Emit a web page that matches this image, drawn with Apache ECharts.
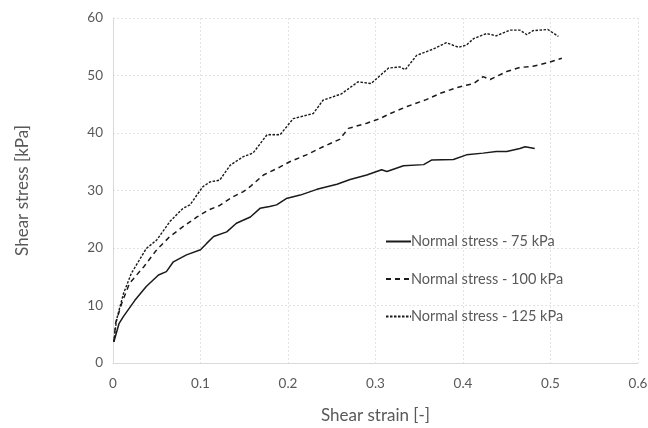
<!DOCTYPE html>
<html><head><meta charset="utf-8">
<script src="https://cdn.jsdelivr.net/npm/echarts@6/dist/echarts.min.js"></script>
<style>html,body{margin:0;padding:0;background:#fff}#c{width:648px;height:428px}</style>
</head><body><div id="c"></div>
<script>
const seriesNames = ['Normal stress - 75 kPa', 'Normal stress - 100 kPa', 'Normal stress - 125 kPa'];
const xTicks = [0, 0.1, 0.2, 0.3, 0.4, 0.5, 0.6];
const yTicks = [0, 10, 20, 30, 40, 50, 60];
const s75 = [[0.001,3.7],[0.007,6.9],[0.012,8.1],[0.025,10.9],[0.038,13.3],[0.052,15.3],[0.061,15.9],[0.069,17.6],[0.084,18.8],[0.1,19.7],[0.107,20.8],[0.115,22.0],[0.13,22.8],[0.141,24.3],[0.157,25.4],[0.168,26.9],[0.179,27.2],[0.187,27.5],[0.198,28.6],[0.214,29.2],[0.233,30.2],[0.256,31.1],[0.271,31.9],[0.29,32.7],[0.307,33.6],[0.313,33.3],[0.332,34.3],[0.355,34.5],[0.364,35.3],[0.389,35.4],[0.404,36.2],[0.423,36.5],[0.438,36.8],[0.45,36.8],[0.465,37.3],[0.471,37.6],[0.482,37.3]];
const s100 = [[0.001,3.7],[0.003,6.9],[0.01,10.4],[0.019,13.9],[0.035,16.7],[0.05,19.7],[0.065,22.0],[0.08,23.7],[0.096,25.4],[0.109,26.6],[0.122,27.4],[0.137,28.9],[0.149,29.8],[0.157,30.7],[0.172,32.7],[0.191,34.1],[0.202,35.0],[0.221,36.2],[0.24,37.6],[0.259,38.9],[0.269,40.8],[0.29,41.7],[0.305,42.5],[0.317,43.4],[0.336,44.6],[0.358,45.8],[0.374,46.9],[0.393,47.9],[0.412,48.6],[0.423,49.8],[0.431,49.3],[0.45,50.7],[0.465,51.4],[0.48,51.6],[0.496,52.2],[0.513,53.0]];
const s125 = [[0.001,3.7],[0.004,7.5],[0.012,12.1],[0.021,15.6],[0.038,19.9],[0.05,21.4],[0.065,24.6],[0.08,26.9],[0.088,27.5],[0.1,30.1],[0.103,30.7],[0.111,31.5],[0.122,31.8],[0.134,34.4],[0.149,35.9],[0.16,36.5],[0.176,39.7],[0.191,39.7],[0.206,42.5],[0.229,43.4],[0.24,45.7],[0.261,46.8],[0.28,48.9],[0.295,48.6],[0.306,50.1],[0.315,51.3],[0.328,51.5],[0.334,51.0],[0.347,53.5],[0.366,54.6],[0.381,55.7],[0.395,54.9],[0.404,55.3],[0.412,56.4],[0.427,57.3],[0.438,56.9],[0.454,57.9],[0.465,57.9],[0.473,57.1],[0.48,57.8],[0.497,58.0],[0.509,56.8]];

const chart = echarts.init(document.getElementById('c'));
const font = 'Lato, "Open Sans", sans-serif';
const grey = '#595959';
function mk(name, data, type, width) {
  return {name, type:'line', data, symbol:'none', smooth:false,
    lineStyle:{color:'#1a1a1a', width, type}, itemStyle:{color:'#1a1a1a'}};
}
chart.setOption({
  animation:false,
  backgroundColor:'#fff',
  grid:{left:113, right:10, top:18, bottom:65, containLabel:false, outerBoundsMode:'none'},
  xAxis:{type:'value', min:0, max:0.6, interval:0.1,
    name:'Shear strain [-]', nameLocation:'middle', nameGap:44,
    nameTextStyle:{fontFamily:font, fontSize:17, color:grey},
    axisLine:{show:true, lineStyle:{color:'#d9d9d9'}}, axisTick:{show:false},
    axisLabel:{fontFamily:font, fontSize:13.5, color:grey, margin:14,
      formatter:v=>String(xTicks.find(t=>Math.abs(t-v)<1e-9) ?? v)},
    splitLine:{show:true, lineStyle:{color:'#e3e3e3', type:[2,2]}}},
  yAxis:{type:'value', min:0, max:60, interval:10,
    name:'Shear stress [kPa]', nameLocation:'middle', nameGap:82,
    nameTextStyle:{fontFamily:font, fontSize:17, color:grey},
    axisLine:{show:true, lineStyle:{color:'#d9d9d9'}}, axisTick:{show:false},
    axisLabel:{fontFamily:font, fontSize:13.5, color:grey, margin:10,
      formatter:v=>String(yTicks.find(t=>t===v) ?? v)},
    splitLine:{show:true, lineStyle:{color:'#e3e3e3', type:[2,2]}}},
  legend:{orient:'vertical', left:380, top:229, itemWidth:25, itemHeight:14, itemGap:22.5,
    itemStyle:{opacity:0},
    textStyle:{fontFamily:font, fontSize:14.5, color:grey, padding:[0,0,0,-5]},
    data:seriesNames},
  series:[
    mk(seriesNames[0], s75, 'solid', 1.5),
    mk(seriesNames[1], s100, [5,4], 1.5),
    mk(seriesNames[2], s125, [2.5,1.5], 1.4)
  ]
});
</script></body></html>
